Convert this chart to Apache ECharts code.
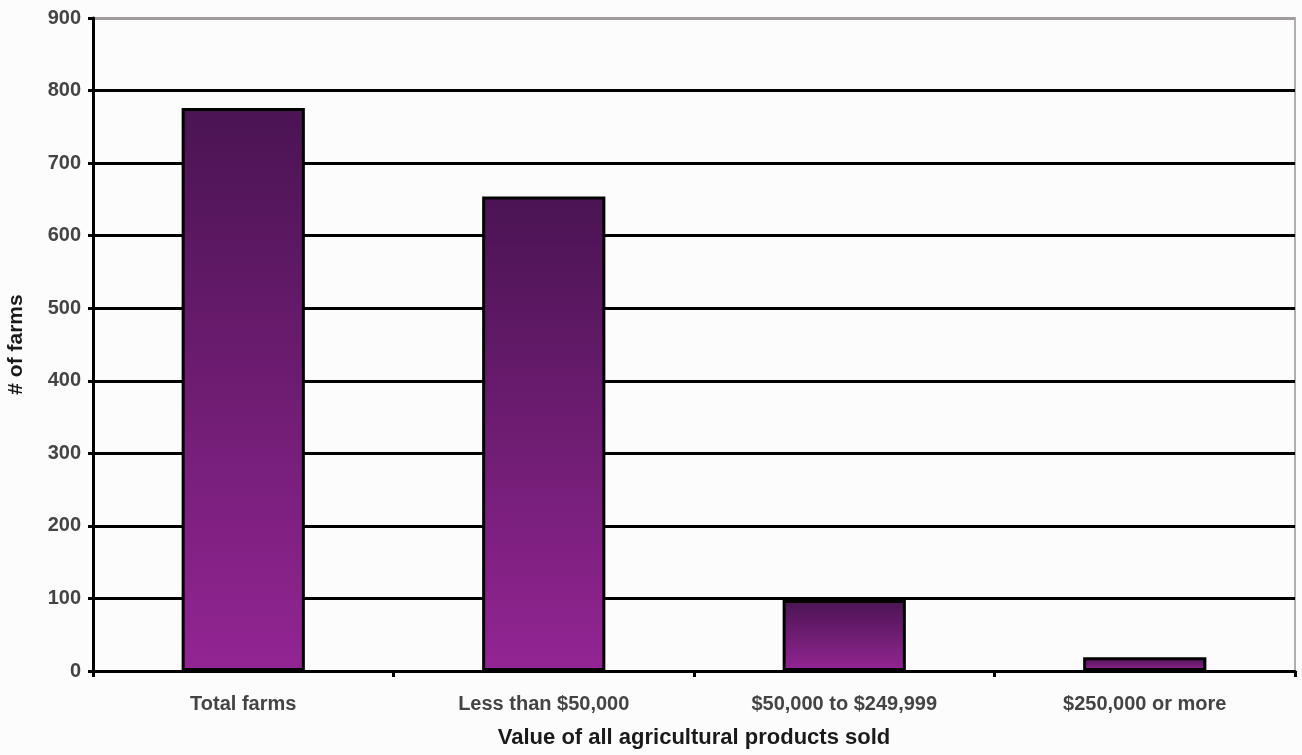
<!DOCTYPE html>
<html>
<head>
<meta charset="utf-8">
<script src="https://cdn.jsdelivr.net/npm/echarts@6/dist/echarts.min.js"></script>
<style>
  html, body { margin: 0; padding: 0; background: #fcfcfc; }
  #main { width: 1302px; height: 755px; }
</style>
</head>
<body>
<div id="main"></div>
<script>
var categories = ['Total farms', 'Less than $50,000', '$50,000 to $249,999', '$250,000 or more'];
var farms = [776, 654, 98, 19];

var myChart = echarts.init(document.getElementById('main'));

// grid lines are black, the top one is grey
var gridColors = ['#000', '#000', '#000', '#000', '#000', '#000', '#000', '#000', '#000', '#a09c9c'];

var option = {
    backgroundColor: '#fcfcfc',
    animation: false,
    grid: {
        left: 93, right: 7, top: 18, bottom: 84,
        outerBoundsMode: 'none',
        containLabel: false,
        show: true,
        borderColor: '#b0aeae',
        borderWidth: 2,
        backgroundColor: 'transparent'
    },
    xAxis: {
        type: 'category',
        data: categories,
        name: 'Value of all agricultural products sold',
        nameLocation: 'middle',
        nameGap: 56,
        nameTextStyle: { fontFamily: 'Liberation Sans', fontWeight: 'bold', fontSize: 22, color: '#1a1a1a' },
        axisLine: { lineStyle: { color: '#000', width: 3 } },
        axisTick: { show: true, length: 6, lineStyle: { color: '#000', width: 3 } },
        axisLabel: { fontFamily: 'Liberation Sans', fontWeight: 'bold', fontSize: 20, color: '#444', margin: 23 }
    },
    yAxis: {
        type: 'value',
        min: 0, max: 900, interval: 100,
        name: '# of farms',
        nameLocation: 'middle',
        nameGap: 66,
        nameTextStyle: { fontFamily: 'Liberation Sans', fontWeight: 'bold', fontSize: 21, color: '#1a1a1a' },
        axisLine: { show: true, lineStyle: { color: '#000', width: 3 } },
        axisTick: { show: true, length: 5, lineStyle: { color: '#000', width: 3 } },
        axisLabel: { fontFamily: 'Liberation Sans', fontWeight: 'bold', fontSize: 20, color: '#444', margin: 12 },
        splitLine: { lineStyle: { color: gridColors, width: 3 } }
    },
    series: [{
        type: 'bar',
        data: farms,
        barWidth: '41%',
        itemStyle: {
            color: new echarts.graphic.LinearGradient(0, 0, 0, 1, [
                { offset: 0, color: '#4a1452' },
                { offset: 1, color: '#932593' }
            ]),
            borderColor: '#000',
            borderWidth: 3
        }
    }]
};

myChart.setOption(option);
</script>
</body>
</html>
